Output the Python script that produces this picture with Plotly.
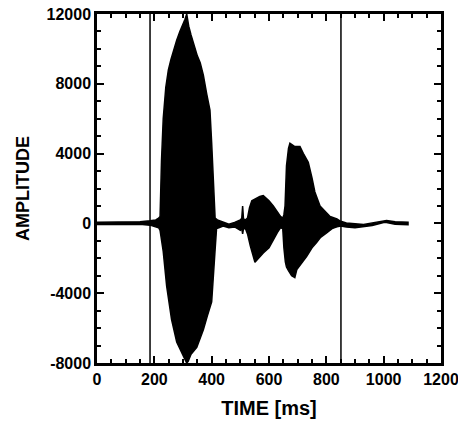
import plotly.graph_objects as go

# Upper envelope of the waveform (time ms, amplitude)
time_upper = [0, 50, 100, 150, 185, 205, 215, 220, 225, 231, 240, 249, 258, 266, 278, 289, 300, 307, 313,
              320, 328, 340, 350, 360, 371, 383, 394, 400, 406, 412, 420, 440, 460, 480, 500, 505, 508, 511,
              518, 525, 532, 540, 550, 568, 580, 600, 615, 630, 640, 648, 652, 656, 661, 668, 673, 690, 708,
              720, 737, 750, 760, 778, 790, 813, 837, 850, 870, 900, 930, 960, 1000, 1010, 1040, 1085]
amp_upper = [70, 90, 70, 90, 150, 200, 300, 400, 3600, 6000, 7800, 8800, 9400, 9900, 10500, 11000, 11400, 11700, 12000,
             11300, 10800, 10100, 9600, 9200, 8500, 7400, 6500, 4600, 2100, 300, 200, 60, -50, 50, 200, 300, 1000, 250,
             200, 300, 900, 1300, 1400, 1550, 1600, 1300, 1000, 600, 400, 300, 500, 1000, 3300, 4300, 4600, 4400, 4400,
             4000, 3500, 2600, 1800, 1000, 800, 400, 250, 120, 20, -20, -60, 30, 170, 170, 100, 70]

# Lower envelope of the waveform (time ms, amplitude)
time_lower = [0, 50, 100, 150, 185, 205, 215, 220, 225, 231, 243, 260, 278, 301, 313, 318, 328, 348, 371, 385,
              400, 406, 412, 417, 425, 440, 460, 480, 500, 505, 508, 511, 518, 525, 535, 551, 565, 580, 600, 615,
              630, 640, 648, 652, 657, 661, 668, 679, 690, 697, 712, 731, 750, 766, 780, 801, 820, 837, 850, 870,
              900, 930, 960, 1000, 1010, 1040, 1085]
amp_lower = [-70, -50, -70, -50, -100, -200, -250, -400, -800, -1600, -3600, -5500, -6800, -7600, -8000, -7900, -7500,
             -7100, -6100, -5300, -4500, -3000, -1500, -300, -250, -150, -250, -200, -400, -300, -600, -300, -300, -600,
             -1300, -2230, -2000, -1700, -1400, -970, -500, -250, -300, -1400, -2200, -2500, -2700, -3000, -3100, -2650,
             -2300, -1900, -1400, -1100, -800, -550, -300, -200, -150, -200, -250, -200, -120, 50, 50, -50, -70]

# Vertical cursor lines (ms)
cursor_times = [185, 851]

x_ticks = [0, 200, 400, 600, 800, 1000, 1200]
y_ticks = [-8000, -4000, 0, 4000, 8000, 12000]
x_range = [0, 1200]
y_range = [-8000, 12000]

FONT = "Liberation Sans, Arial, sans-serif"

fig = go.Figure()

fig.add_trace(go.Scatter(
    x=time_upper + time_lower[::-1],
    y=amp_upper + amp_lower[::-1],
    mode="lines",
    fill="toself",
    fillcolor="black",
    line=dict(color="black", width=1.5),
    hoverinfo="skip",
    showlegend=False,
))

for t in cursor_times:
    fig.add_trace(go.Scatter(
        x=[t, t], y=y_range,
        xaxis="x2", yaxis="y2",
        mode="lines", line=dict(color="black", width=1.5),
        showlegend=False, hoverinfo="skip",
    ))

tickfont = dict(family=FONT, size=16, color="black", weight="bold")
common = dict(
    showgrid=False, zeroline=False, automargin=False,
    showline=True, linecolor="black", linewidth=2.5,
    ticks="inside", ticklen=7, tickwidth=2, tickcolor="black",
)

fig.update_layout(
    xaxis=dict(
        range=x_range, tickvals=x_ticks, ticktext=[str(v) for v in x_ticks],
        tickfont=tickfont, ticklabeloverflow="allow",
        minor=dict(ticks="inside", dtick=50, ticklen=4, tickwidth=1.5, tickcolor="black", showgrid=False),
        title=dict(text="TIME [ms]", font=dict(family=FONT, size=20, color="black", weight="bold"), standoff=15),
        **common,
    ),
    yaxis=dict(
        range=y_range, tickvals=y_ticks, ticktext=[str(v) for v in y_ticks],
        tickfont=tickfont, ticklabeloverflow="allow",
        minor=dict(ticks="inside", dtick=1000, ticklen=4, tickwidth=1.5, tickcolor="black", showgrid=False),
        title=dict(text="AMPLITUDE", font=dict(family=FONT, size=18, color="black", weight="bold"), standoff=13),
        **common,
    ),
    xaxis2=dict(
        range=x_range, tickvals=x_ticks, showticklabels=False, overlaying="x", side="top", anchor="y2",
        minor=dict(ticks="inside", dtick=50, ticklen=4, tickwidth=1.5, tickcolor="black", showgrid=False),
        **common,
    ),
    yaxis2=dict(
        range=y_range, tickvals=y_ticks, showticklabels=False, overlaying="y", side="right", anchor="x2",
        minor=dict(ticks="inside", dtick=1000, ticklen=4, tickwidth=1.5, tickcolor="black", showgrid=False),
        **common,
    ),
    width=458, height=430,
    margin=dict(l=97, r=17, t=14, b=67),
    plot_bgcolor="white", paper_bgcolor="white",
    showlegend=False,
)

fig.write_html("out.html")
